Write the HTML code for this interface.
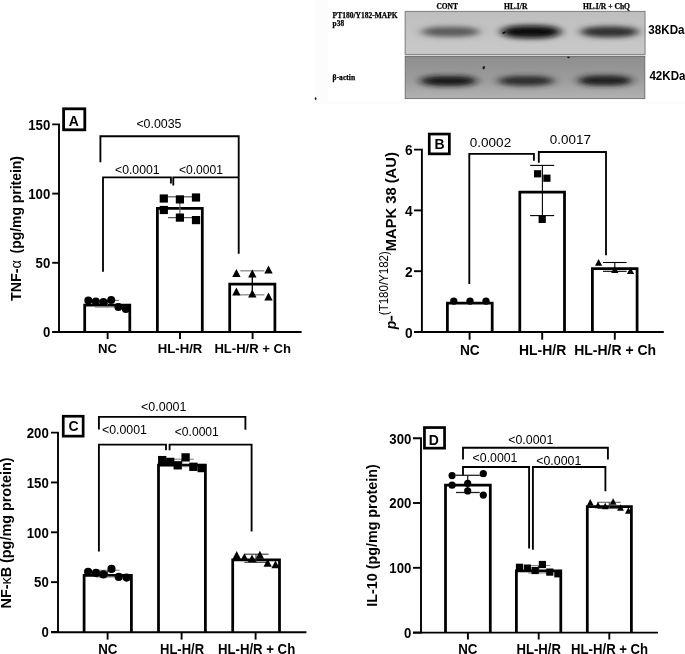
<!DOCTYPE html><html><head><meta charset="utf-8"><style>html,body{margin:0;padding:0;background:#fff;width:685px;height:654px;overflow:hidden}svg{display:block}</style></head><body>
<svg width="685" height="654" viewBox="0 0 685 654">
<defs><filter id="bl" x="-50%" y="-50%" width="200%" height="200%"><feGaussianBlur stdDeviation="5 2.4"/></filter><filter id="bl2" x="-50%" y="-50%" width="200%" height="200%"><feGaussianBlur stdDeviation="0.6"/></filter><filter id="soft" x="0" y="0" width="685" height="654" filterUnits="userSpaceOnUse"><feGaussianBlur stdDeviation="0.4"/></filter></defs>
<rect width="685" height="654" fill="#fff"/>
<g filter="url(#soft)">
<rect width="685" height="654" fill="#fff"/>
<rect x="315" y="0" width="370" height="104" fill="#fcfcfc"/>
<rect x="328" y="0" width="357" height="102" fill="#fff"/>
<defs><linearGradient id="g2" x1="0" y1="0" x2="0" y2="1"><stop offset="0" stop-color="#8e8e8e"/><stop offset="0.55" stop-color="#9c9c9c"/><stop offset="1" stop-color="#b2b2b2"/></linearGradient><linearGradient id="g1" x1="0" y1="0" x2="0" y2="1"><stop offset="0" stop-color="#bebebe"/><stop offset="1" stop-color="#c9c9c9"/></linearGradient></defs>
<rect x="404.6" y="10.8" width="241" height="47" fill="#d6d6d6"/>
<rect x="405.2" y="11.4" width="239.8" height="43" fill="url(#g1)" stroke="#7c7c7c" stroke-width="0.9"/>
<rect x="405.2" y="56.6" width="239.6" height="42" fill="url(#g2)" stroke="#6a6a6a" stroke-width="0.9"/>
<g filter="url(#bl)">
<rect x="421.5" y="26.8" width="58" height="10.0" rx="21.75" ry="5.0" fill="#5a5a5a"/>
<rect x="501" y="25.4" width="60" height="12.8" rx="22.5" ry="6.4" fill="#0a0a0a"/>
<rect x="580.5" y="26.4" width="58" height="10.8" rx="21.75" ry="5.4" fill="#2e2e2e"/>
<rect x="420.5" y="75.9" width="56" height="10.0" rx="21.0" ry="5.0" fill="#131313"/>
<rect x="498" y="76.10000000000001" width="56" height="9.6" rx="21.0" ry="4.8" fill="#2c2c2c"/>
<rect x="578" y="75.6" width="54" height="10.0" rx="20.25" ry="5.0" fill="#1c1c1c"/>
</g>
<text x="447.2" y="9.4" font-family='"Liberation Serif", serif' font-size="8" font-weight="bold" text-anchor="middle" textLength="21.6" lengthAdjust="spacingAndGlyphs" stroke="#000" stroke-width="0.25">CONT</text>
<text x="515.7" y="9.4" font-family='"Liberation Serif", serif' font-size="8" font-weight="bold" text-anchor="middle" textLength="23.4" lengthAdjust="spacingAndGlyphs" stroke="#000" stroke-width="0.25">HL.I/R</text>
<text x="606.5" y="9.4" font-family='"Liberation Serif", serif' font-size="8" font-weight="bold" text-anchor="middle" textLength="47" lengthAdjust="spacingAndGlyphs" stroke="#000" stroke-width="0.25">HL.I/R + ChQ</text>
<text x="332.6" y="17.9" font-family='"Liberation Serif", serif' font-size="7.6" font-weight="bold" text-anchor="start" textLength="65" lengthAdjust="spacingAndGlyphs" stroke="#000" stroke-width="0.25">PT180/Y182-MAPK</text>
<text x="332.6" y="26.4" font-family='"Liberation Serif", serif' font-size="7.6" font-weight="bold" text-anchor="start" textLength="11.5" lengthAdjust="spacingAndGlyphs" stroke="#000" stroke-width="0.25">p38</text>
<text x="332.6" y="80" font-family='"Liberation Serif", serif' font-size="7.6" font-weight="bold" text-anchor="start" textLength="22.5" lengthAdjust="spacingAndGlyphs" stroke="#000" stroke-width="0.25">β-actin</text>
<text x="648.33" y="33.9" font-family='"Liberation Sans", sans-serif' font-size="12.4" font-weight="bold" text-anchor="start" textLength="36.19" lengthAdjust="spacingAndGlyphs">38KDa</text>
<text x="649.42" y="79.8" font-family='"Liberation Sans", sans-serif' font-size="12.4" font-weight="bold" text-anchor="start" textLength="36.1" lengthAdjust="spacingAndGlyphs">42KDa</text>
<ellipse cx="315.6" cy="98.7" rx="0.9" ry="1.4" fill="#222"/>
<ellipse cx="483.8" cy="67.7" rx="1.2" ry="1.7" fill="#222" transform="rotate(20 483.8 67.7)"/>
<ellipse cx="504" cy="32.6" rx="1.8" ry="1.0" fill="#111" transform="rotate(-20 504 32.6)"/>
<ellipse cx="568.5" cy="57.4" rx="1.4" ry="0.8" fill="#222"/>
<path d="M52.2,124.4 H59 V332.95" fill="none" stroke="#000" stroke-width="1.9" stroke-linejoin="miter"/>
<line x1="52.2" y1="193.6" x2="59" y2="193.6" stroke="#000" stroke-width="1.9"/>
<line x1="52.2" y1="262.8" x2="59" y2="262.8" stroke="#000" stroke-width="1.9"/>
<line x1="52.2" y1="332.0" x2="59" y2="332.0" stroke="#000" stroke-width="1.9"/>
<text x="50.24" y="129.74" font-family='"Liberation Sans", sans-serif' font-size="14.124" font-weight="bold" text-anchor="end" textLength="22.02" lengthAdjust="spacingAndGlyphs">150</text>
<text x="50.24" y="198.94" font-family='"Liberation Sans", sans-serif' font-size="14.124" font-weight="bold" text-anchor="end" textLength="22.02" lengthAdjust="spacingAndGlyphs">100</text>
<text x="50.24" y="268.14" font-family='"Liberation Sans", sans-serif' font-size="14.124" font-weight="bold" text-anchor="end" textLength="14.68" lengthAdjust="spacingAndGlyphs">50</text>
<text x="50.24" y="337.34" font-family='"Liberation Sans", sans-serif' font-size="14.124" font-weight="bold" text-anchor="end" textLength="7.34" lengthAdjust="spacingAndGlyphs">0</text>
<line x1="52.4" y1="332" x2="301.6" y2="332" stroke="#000" stroke-width="1.9"/>
<line x1="107.6" y1="332" x2="107.6" y2="339" stroke="#000" stroke-width="1.9"/>
<line x1="180" y1="332" x2="180" y2="339" stroke="#000" stroke-width="1.9"/>
<line x1="252.6" y1="332" x2="252.6" y2="339" stroke="#000" stroke-width="1.9"/>
<path d="M84.7,332 V305.2 H129.8 V332" fill="none" stroke="#000" stroke-width="2.75" stroke-linejoin="miter"/>
<path d="M157.4,332 V208.4 H202.3 V332" fill="none" stroke="#000" stroke-width="2.75" stroke-linejoin="miter"/>
<path d="M229.7,332 V284.2 H274.9 V332" fill="none" stroke="#000" stroke-width="2.75" stroke-linejoin="miter"/>
<rect x="63.6" y="108.80000000000001" width="21.2" height="20.999999999999982" fill="none" stroke="#000" stroke-width="2.8"/>
<text x="73.9" y="125.6" font-family='"Liberation Sans", sans-serif' font-size="14" font-weight="bold" text-anchor="middle">A</text>
<path d="M100.4,162.3 V136.2 H238.7 V253.8" fill="none" stroke="#000" stroke-width="1.85" stroke-linejoin="miter" stroke-linecap="butt"/>
<path d="M103,271.8 V177.4 H170.9 V183.4" fill="none" stroke="#000" stroke-width="1.85" stroke-linejoin="miter" stroke-linecap="butt"/>
<path d="M173.3,185.6 V177.4 H238.7" fill="none" stroke="#000" stroke-width="1.85" stroke-linejoin="miter" stroke-linecap="butt"/>
<text x="136.39" y="128" font-family='"Liberation Sans", sans-serif' font-size="12.5" font-weight="normal" text-anchor="start" textLength="45.13" lengthAdjust="spacingAndGlyphs">&lt;0.0035</text>
<text x="115.0" y="174.2" font-family='"Liberation Sans", sans-serif' font-size="12.5" font-weight="normal" text-anchor="start" textLength="44.6" lengthAdjust="spacingAndGlyphs">&lt;0.0001</text>
<text x="179.0" y="174.2" font-family='"Liberation Sans", sans-serif' font-size="12.5" font-weight="normal" text-anchor="start" textLength="43.99" lengthAdjust="spacingAndGlyphs">&lt;0.0001</text>
<line x1="107.4" y1="300.4" x2="107.4" y2="307" stroke="#333" stroke-width="1.1"/>
<line x1="95" y1="300.4" x2="119" y2="300.4" stroke="#777" stroke-width="1.1"/>
<line x1="95" y1="307" x2="119" y2="307" stroke="#777" stroke-width="1.1"/>
<circle cx="88.3" cy="300.6" r="4.0" fill="#000"/>
<circle cx="95.8" cy="301.4" r="4.0" fill="#000"/>
<circle cx="103.4" cy="302" r="4.0" fill="#000"/>
<circle cx="111.2" cy="300" r="4.0" fill="#000"/>
<circle cx="118.4" cy="307" r="4.0" fill="#000"/>
<circle cx="125.8" cy="309" r="4.0" fill="#000"/>
<line x1="179.9" y1="196.8" x2="179.9" y2="217.6" stroke="#666" stroke-width="1.2"/>
<line x1="168" y1="196.8" x2="192" y2="196.8" stroke="#555" stroke-width="1.2"/>
<line x1="168" y1="217.6" x2="192" y2="217.6" stroke="#555" stroke-width="1.2"/>
<rect x="159.70000000000002" y="194.4" width="8.2" height="8.2" fill="#000"/>
<rect x="175.8" y="195.3" width="8.2" height="8.2" fill="#000"/>
<rect x="191.9" y="193.4" width="8.2" height="8.2" fill="#000"/>
<rect x="159.70000000000002" y="205.9" width="8.2" height="8.2" fill="#000"/>
<rect x="175.8" y="213.5" width="8.2" height="8.2" fill="#000"/>
<rect x="191.9" y="216.0" width="8.2" height="8.2" fill="#000"/>
<line x1="252.3" y1="270.8" x2="252.3" y2="294.8" stroke="#000" stroke-width="1.3"/>
<line x1="240.3" y1="270.8" x2="264.4" y2="270.8" stroke="#888" stroke-width="1.3"/>
<line x1="240.3" y1="294.8" x2="264.4" y2="294.8" stroke="#888" stroke-width="1.3"/>
<path d="M236.4,269.11 L240.6,277.09000000000003 L232.20000000000002,277.09000000000003 Z" fill="#000"/>
<path d="M252.3,269.61 L256.5,277.59000000000003 L248.10000000000002,277.59000000000003 Z" fill="#000"/>
<path d="M268.5,265.51 L272.7,273.49 L264.3,273.49 Z" fill="#000"/>
<path d="M236.4,287.40999999999997 L240.6,295.39 L232.20000000000002,295.39 Z" fill="#000"/>
<path d="M252.3,289.51 L256.5,297.49 L248.10000000000002,297.49 Z" fill="#000"/>
<path d="M268.5,292.61 L272.7,300.59000000000003 L264.3,300.59000000000003 Z" fill="#000"/>
<text x="97.92" y="352.9" font-family='"Liberation Sans", sans-serif' font-size="12.9" font-weight="bold" text-anchor="start" textLength="19.04" lengthAdjust="spacingAndGlyphs">NC</text>
<text x="157.82" y="352.9" font-family='"Liberation Sans", sans-serif' font-size="12.9" font-weight="bold" text-anchor="start" textLength="44.55" lengthAdjust="spacingAndGlyphs">HL-H/R</text>
<text x="214.43" y="352.9" font-family='"Liberation Sans", sans-serif' font-size="12.9" font-weight="bold" text-anchor="start" textLength="76.58" lengthAdjust="spacingAndGlyphs">HL-H/R + Ch</text>
<text transform="translate(21,301.0) rotate(-90)" font-family='"Liberation Sans", sans-serif' font-size="14.3" font-weight="bold">TNF-</text>
<text transform="translate(21,268.4) rotate(-90)" font-family='"Liberation Sans", sans-serif' font-size="14.5">α</text>
<text transform="translate(21,156.1) rotate(-90)" font-family='"Liberation Sans", sans-serif' font-size="14" font-weight="bold" text-anchor="end" textLength="97.3" lengthAdjust="spacingAndGlyphs">(pg/mg pritein)</text>
<path d="M414,149.60000000000002 H421.9 V332.95" fill="none" stroke="#000" stroke-width="1.9" stroke-linejoin="miter"/>
<line x1="414" y1="210.4" x2="421.9" y2="210.4" stroke="#000" stroke-width="1.9"/>
<line x1="414" y1="271.2" x2="421.9" y2="271.2" stroke="#000" stroke-width="1.9"/>
<line x1="414" y1="332.0" x2="421.9" y2="332.0" stroke="#000" stroke-width="1.9"/>
<text x="412.67" y="155.17" font-family='"Liberation Sans", sans-serif' font-size="14.766000000000002" font-weight="bold" text-anchor="end" textLength="7.67" lengthAdjust="spacingAndGlyphs">6</text>
<text x="412.67" y="215.97" font-family='"Liberation Sans", sans-serif' font-size="14.766000000000002" font-weight="bold" text-anchor="end" textLength="7.67" lengthAdjust="spacingAndGlyphs">4</text>
<text x="412.67" y="276.77" font-family='"Liberation Sans", sans-serif' font-size="14.766000000000002" font-weight="bold" text-anchor="end" textLength="7.67" lengthAdjust="spacingAndGlyphs">2</text>
<text x="412.67" y="337.57" font-family='"Liberation Sans", sans-serif' font-size="14.766000000000002" font-weight="bold" text-anchor="end" textLength="7.67" lengthAdjust="spacingAndGlyphs">0</text>
<line x1="414" y1="332" x2="663.8" y2="332" stroke="#000" stroke-width="1.9"/>
<line x1="469.6" y1="332" x2="469.6" y2="339.7" stroke="#000" stroke-width="1.9"/>
<line x1="542.2" y1="332" x2="542.2" y2="339.7" stroke="#000" stroke-width="1.9"/>
<line x1="614.8" y1="332" x2="614.8" y2="339.7" stroke="#000" stroke-width="1.9"/>
<path d="M447.4,332 V303.1 H492.2 V332" fill="none" stroke="#000" stroke-width="2.75" stroke-linejoin="miter"/>
<path d="M519.8,332 V192.2 H564.5 V332" fill="none" stroke="#000" stroke-width="2.75" stroke-linejoin="miter"/>
<path d="M592.4,332 V268.5 H637.1 V332" fill="none" stroke="#000" stroke-width="2.75" stroke-linejoin="miter"/>
<rect x="429.25" y="134.04999999999998" width="20.100000000000012" height="19.8" fill="none" stroke="#000" stroke-width="2.7"/>
<text x="439.6" y="148.6" font-family='"Liberation Sans", sans-serif' font-size="14" font-weight="bold" text-anchor="middle">B</text>
<path d="M469.3,284 V153.8 H533.9 V160.8" fill="none" stroke="#000" stroke-width="1.85" stroke-linejoin="miter" stroke-linecap="butt"/>
<path d="M538.8,162.8 V152 H606 V255.2" fill="none" stroke="#000" stroke-width="1.85" stroke-linejoin="miter" stroke-linecap="butt"/>
<text x="469.77" y="146.7" font-family='"Liberation Sans", sans-serif' font-size="12.5" font-weight="normal" text-anchor="start" textLength="41.41" lengthAdjust="spacingAndGlyphs">0.0002</text>
<text x="549.88" y="144.2" font-family='"Liberation Sans", sans-serif' font-size="12.5" font-weight="normal" text-anchor="start" textLength="41.0" lengthAdjust="spacingAndGlyphs">0.0017</text>
<circle cx="453.8" cy="301.1" r="3.7" fill="#000"/>
<circle cx="470" cy="301.1" r="3.7" fill="#000"/>
<circle cx="486" cy="301.1" r="3.7" fill="#000"/>
<line x1="542.4" y1="165.4" x2="542.4" y2="215.6" stroke="#000" stroke-width="1.1"/>
<line x1="530.1" y1="165.4" x2="554.2" y2="165.4" stroke="#000" stroke-width="1.1"/>
<line x1="530.1" y1="215.6" x2="554.2" y2="215.6" stroke="#000" stroke-width="1.1"/>
<rect x="534.0" y="170.20000000000002" width="7.2" height="7.2" fill="#000"/>
<rect x="543.3" y="174.6" width="7.2" height="7.2" fill="#000"/>
<rect x="538.6" y="215.8" width="7.2" height="7.2" fill="#000"/>
<line x1="614.8" y1="262.5" x2="614.8" y2="271.3" stroke="#000" stroke-width="1.1"/>
<line x1="603" y1="262.5" x2="626.6" y2="262.5" stroke="#000" stroke-width="1.1"/>
<line x1="603" y1="271.3" x2="626.6" y2="271.3" stroke="#000" stroke-width="1.1"/>
<path d="M598.6,258.88 L602.2,265.72 L595.0,265.72 Z" fill="#000"/>
<path d="M614.8,266.28 L618.4,273.12 L611.1999999999999,273.12 Z" fill="#000"/>
<path d="M630.5,267.18 L634.1,274.02000000000004 L626.9,274.02000000000004 Z" fill="#000"/>
<text x="459.98" y="354.8" font-family='"Liberation Sans", sans-serif' font-size="13.8" font-weight="bold" text-anchor="start" textLength="19.79" lengthAdjust="spacingAndGlyphs">NC</text>
<text x="519.07" y="354.8" font-family='"Liberation Sans", sans-serif' font-size="13.8" font-weight="bold" text-anchor="start" textLength="47.12" lengthAdjust="spacingAndGlyphs">HL-H/R</text>
<text x="574.27" y="354.8" font-family='"Liberation Sans", sans-serif' font-size="13.8" font-weight="bold" text-anchor="start" textLength="81.8" lengthAdjust="spacingAndGlyphs">HL-H/R + Ch</text>
<g transform="translate(0,0)">
<text transform="translate(396,329.3) rotate(-90)" font-family='"Liberation Sans", sans-serif' font-size="14" font-style="italic" font-weight="bold">p</text>
<line x1="391.6" y1="315.8" x2="391.6" y2="320.8" stroke="#000" stroke-width="1.8"/>
<text transform="translate(388.2,315.2) rotate(-90)" font-family='"Liberation Sans", sans-serif' font-size="12" textLength="64" lengthAdjust="spacingAndGlyphs">(T180/Y182)</text>
<text transform="translate(395.5,251.2) rotate(-90)" font-family='"Liberation Sans", sans-serif' font-size="14.5" font-weight="bold" textLength="99" lengthAdjust="spacingAndGlyphs">MAPK 38 (AU)</text>
</g>
<path d="M51,432.6 H58 V632.95" fill="none" stroke="#000" stroke-width="1.9" stroke-linejoin="miter"/>
<line x1="51" y1="482.45" x2="58" y2="482.45" stroke="#000" stroke-width="1.9"/>
<line x1="51" y1="532.3" x2="58" y2="532.3" stroke="#000" stroke-width="1.9"/>
<line x1="51" y1="582.15" x2="58" y2="582.15" stroke="#000" stroke-width="1.9"/>
<line x1="51" y1="632.0" x2="58" y2="632.0" stroke="#000" stroke-width="1.9"/>
<text x="48.74" y="437.94" font-family='"Liberation Sans", sans-serif' font-size="14.124" font-weight="bold" text-anchor="end" textLength="22.02" lengthAdjust="spacingAndGlyphs">200</text>
<text x="48.74" y="487.79" font-family='"Liberation Sans", sans-serif' font-size="14.124" font-weight="bold" text-anchor="end" textLength="22.02" lengthAdjust="spacingAndGlyphs">150</text>
<text x="48.74" y="537.64" font-family='"Liberation Sans", sans-serif' font-size="14.124" font-weight="bold" text-anchor="end" textLength="22.02" lengthAdjust="spacingAndGlyphs">100</text>
<text x="48.74" y="587.49" font-family='"Liberation Sans", sans-serif' font-size="14.124" font-weight="bold" text-anchor="end" textLength="14.68" lengthAdjust="spacingAndGlyphs">50</text>
<text x="48.74" y="637.34" font-family='"Liberation Sans", sans-serif' font-size="14.124" font-weight="bold" text-anchor="end" textLength="7.34" lengthAdjust="spacingAndGlyphs">0</text>
<line x1="51" y1="632.2" x2="306.4" y2="632.2" stroke="#000" stroke-width="1.9"/>
<line x1="107.6" y1="632.2" x2="107.6" y2="639.6" stroke="#000" stroke-width="1.9"/>
<line x1="181.6" y1="632.2" x2="181.6" y2="639.6" stroke="#000" stroke-width="1.9"/>
<line x1="255.6" y1="632.2" x2="255.6" y2="639.6" stroke="#000" stroke-width="1.9"/>
<path d="M84.1,632 V575.3 H131.4 V632" fill="none" stroke="#000" stroke-width="2.75" stroke-linejoin="miter"/>
<path d="M158.5,632 V465.1 H205.4 V632" fill="none" stroke="#000" stroke-width="2.75" stroke-linejoin="miter"/>
<path d="M232.7,632 V559.9 H279.5 V632" fill="none" stroke="#000" stroke-width="2.75" stroke-linejoin="miter"/>
<rect x="63.25" y="416.25" width="19.900000000000002" height="19.900000000000023" fill="none" stroke="#000" stroke-width="2.7"/>
<text x="73.6" y="430.5" font-family='"Liberation Sans", sans-serif' font-size="14" font-weight="bold" text-anchor="middle">C</text>
<path d="M98.9,429.6 V416.8 H245.4 V429.8" fill="none" stroke="#000" stroke-width="1.85" stroke-linejoin="miter" stroke-linecap="butt"/>
<path d="M98.9,551.4 V444.6 H166 V450.2" fill="none" stroke="#000" stroke-width="1.85" stroke-linejoin="miter" stroke-linecap="butt"/>
<path d="M169.6,450.2 V444.6 H251.6 V531.6" fill="none" stroke="#000" stroke-width="1.85" stroke-linejoin="miter" stroke-linecap="butt"/>
<text x="141.09" y="410.9" font-family='"Liberation Sans", sans-serif' font-size="12.5" font-weight="normal" text-anchor="start" textLength="45.32" lengthAdjust="spacingAndGlyphs">&lt;0.0001</text>
<text x="101.99" y="434.2" font-family='"Liberation Sans", sans-serif' font-size="12.5" font-weight="normal" text-anchor="start" textLength="45.01" lengthAdjust="spacingAndGlyphs">&lt;0.0001</text>
<text x="174.7" y="435.6" font-family='"Liberation Sans", sans-serif' font-size="12.5" font-weight="normal" text-anchor="start" textLength="44.19" lengthAdjust="spacingAndGlyphs">&lt;0.0001</text>
<line x1="107.6" y1="570.3" x2="107.6" y2="577" stroke="#333" stroke-width="1.1"/>
<line x1="96" y1="570.3" x2="119.6" y2="570.3" stroke="#888" stroke-width="1.1"/>
<line x1="96" y1="577" x2="119.6" y2="577" stroke="#888" stroke-width="1.1"/>
<circle cx="88.1" cy="571.8" r="4.1" fill="#000"/>
<circle cx="96" cy="572.9" r="4.1" fill="#000"/>
<circle cx="103.4" cy="574.4" r="4.1" fill="#000"/>
<circle cx="111.5" cy="568.9" r="4.1" fill="#000"/>
<circle cx="118.7" cy="576.9" r="4.1" fill="#000"/>
<circle cx="126.6" cy="577.6" r="4.1" fill="#000"/>
<line x1="181.8" y1="459.2" x2="181.8" y2="466.6" stroke="#444" stroke-width="1.1"/>
<line x1="170" y1="459.2" x2="193.9" y2="459.2" stroke="#888" stroke-width="1.1"/>
<line x1="170" y1="466.6" x2="193.9" y2="466.6" stroke="#888" stroke-width="1.1"/>
<rect x="158.04999999999998" y="455.95000000000005" width="8.3" height="8.3" fill="#000"/>
<rect x="166.04999999999998" y="457.75" width="8.3" height="8.3" fill="#000"/>
<rect x="173.54999999999998" y="461.15000000000003" width="8.3" height="8.3" fill="#000"/>
<rect x="181.45" y="453.25" width="8.3" height="8.3" fill="#000"/>
<rect x="189.25" y="462.65000000000003" width="8.3" height="8.3" fill="#000"/>
<rect x="197.54999999999998" y="463.95000000000005" width="8.3" height="8.3" fill="#000"/>
<line x1="256" y1="554.2" x2="256" y2="562.3" stroke="#333" stroke-width="1.1"/>
<line x1="244.4" y1="554.2" x2="268.5" y2="554.2" stroke="#333" stroke-width="1.1"/>
<line x1="244.4" y1="562.3" x2="268.5" y2="562.3" stroke="#333" stroke-width="1.1"/>
<path d="M236.7,551.0575 L240.85,558.9425 L232.54999999999998,558.9425 Z" fill="#000"/>
<path d="M244.4,553.1575 L248.55,561.0425 L240.25,561.0425 Z" fill="#000"/>
<path d="M252,554.4575 L256.15,562.3425 L247.85,562.3425 Z" fill="#000"/>
<path d="M259.9,550.8575 L264.04999999999995,558.7425 L255.74999999999997,558.7425 Z" fill="#000"/>
<path d="M267.7,558.8575 L271.84999999999997,566.7425 L263.55,566.7425 Z" fill="#000"/>
<path d="M275.5,560.4575 L279.65,568.3425 L271.35,568.3425 Z" fill="#000"/>
<text x="98.21" y="653.9" font-family='"Liberation Sans", sans-serif' font-size="13.8" font-weight="bold" text-anchor="start" textLength="19.26" lengthAdjust="spacingAndGlyphs">NC</text>
<text x="160.03" y="653.9" font-family='"Liberation Sans", sans-serif' font-size="13.8" font-weight="bold" text-anchor="start" textLength="44.04" lengthAdjust="spacingAndGlyphs">HL-H/R</text>
<text x="217.92" y="653.9" font-family='"Liberation Sans", sans-serif' font-size="13.8" font-weight="bold" text-anchor="start" textLength="77.3" lengthAdjust="spacingAndGlyphs">HL-H/R + Ch</text>
<text transform="translate(10.9,608.5) rotate(-90)" x="0" y="0" font-family='"Liberation Sans", sans-serif' font-size="14" font-weight="bold" textLength="151" lengthAdjust="spacingAndGlyphs">NF-<tspan font-weight="normal">κ</tspan>B (pg/mg protein)</text>
<path d="M413,438.20000000000005 H421 V633.5500000000001" fill="none" stroke="#000" stroke-width="1.9" stroke-linejoin="miter"/>
<line x1="413" y1="503.0" x2="421" y2="503.0" stroke="#000" stroke-width="1.9"/>
<line x1="413" y1="567.8000000000001" x2="421" y2="567.8000000000001" stroke="#000" stroke-width="1.9"/>
<line x1="413" y1="632.6" x2="421" y2="632.6" stroke="#000" stroke-width="1.9"/>
<text x="411.34" y="443.54" font-family='"Liberation Sans", sans-serif' font-size="14.124" font-weight="bold" text-anchor="end" textLength="22.02" lengthAdjust="spacingAndGlyphs">300</text>
<text x="411.34" y="508.34" font-family='"Liberation Sans", sans-serif' font-size="14.124" font-weight="bold" text-anchor="end" textLength="22.02" lengthAdjust="spacingAndGlyphs">200</text>
<text x="411.34" y="573.14" font-family='"Liberation Sans", sans-serif' font-size="14.124" font-weight="bold" text-anchor="end" textLength="22.02" lengthAdjust="spacingAndGlyphs">100</text>
<text x="411.34" y="637.94" font-family='"Liberation Sans", sans-serif' font-size="14.124" font-weight="bold" text-anchor="end" textLength="7.34" lengthAdjust="spacingAndGlyphs">0</text>
<line x1="413" y1="632.6" x2="658" y2="632.6" stroke="#000" stroke-width="1.9"/>
<line x1="467.9" y1="632.6" x2="467.9" y2="639.5" stroke="#000" stroke-width="1.9"/>
<line x1="538.7" y1="632.6" x2="538.7" y2="639.5" stroke="#000" stroke-width="1.9"/>
<line x1="609.3" y1="632.6" x2="609.3" y2="639.5" stroke="#000" stroke-width="1.9"/>
<path d="M445.5,632.6 V485.2 H490.3 V632.6" fill="none" stroke="#000" stroke-width="2.75" stroke-linejoin="miter"/>
<path d="M516.4,632.6 V570.8 H560.8 V632.6" fill="none" stroke="#000" stroke-width="2.75" stroke-linejoin="miter"/>
<path d="M587.3,632.6 V506.6 H631.4 V632.6" fill="none" stroke="#000" stroke-width="2.75" stroke-linejoin="miter"/>
<rect x="424.45000000000005" y="427.55" width="20.099999999999955" height="20.600000000000012" fill="none" stroke="#000" stroke-width="2.7"/>
<text x="433.9" y="444.6" font-family='"Liberation Sans", sans-serif' font-size="14" font-weight="bold" text-anchor="middle">D</text>
<path d="M463,459.6 V447.7 H607.9 V459.5" fill="none" stroke="#000" stroke-width="1.85" stroke-linejoin="miter" stroke-linecap="butt"/>
<path d="M463,475.6 V467 H529.1 V548.6" fill="none" stroke="#000" stroke-width="1.85" stroke-linejoin="miter" stroke-linecap="butt"/>
<path d="M532.9,549.7 V467 H605.4 V491.3" fill="none" stroke="#000" stroke-width="1.85" stroke-linejoin="miter" stroke-linecap="butt"/>
<text x="508.29" y="444.4" font-family='"Liberation Sans", sans-serif' font-size="12.5" font-weight="normal" text-anchor="start" textLength="45.01" lengthAdjust="spacingAndGlyphs">&lt;0.0001</text>
<text x="472.59" y="462.4" font-family='"Liberation Sans", sans-serif' font-size="12.5" font-weight="normal" text-anchor="start" textLength="44.91" lengthAdjust="spacingAndGlyphs">&lt;0.0001</text>
<text x="536.29" y="465" font-family='"Liberation Sans", sans-serif' font-size="12.5" font-weight="normal" text-anchor="start" textLength="45.01" lengthAdjust="spacingAndGlyphs">&lt;0.0001</text>
<line x1="467.7" y1="475.3" x2="467.7" y2="492.5" stroke="#222" stroke-width="1.3"/>
<line x1="456" y1="475.3" x2="479.8" y2="475.3" stroke="#222" stroke-width="1.3"/>
<line x1="456" y1="492.5" x2="479.8" y2="492.5" stroke="#222" stroke-width="1.3"/>
<circle cx="452.1" cy="475.6" r="3.6" fill="#000"/>
<circle cx="483.3" cy="473.7" r="3.6" fill="#000"/>
<circle cx="467.7" cy="483.3" r="3.6" fill="#000"/>
<circle cx="452.1" cy="485.2" r="3.6" fill="#000"/>
<circle cx="467.7" cy="490.9" r="3.6" fill="#000"/>
<circle cx="483.3" cy="495.1" r="3.6" fill="#000"/>
<line x1="538.7" y1="565.5" x2="538.7" y2="573" stroke="#333" stroke-width="1.1"/>
<line x1="528" y1="565.5" x2="550.3" y2="565.5" stroke="#888" stroke-width="1.1"/>
<line x1="528" y1="573" x2="550.3" y2="573" stroke="#888" stroke-width="1.1"/>
<rect x="515.9" y="563.6999999999999" width="7.2" height="7.2" fill="#000"/>
<rect x="523.8" y="564.5" width="7.2" height="7.2" fill="#000"/>
<rect x="531.5" y="566.9" width="7.2" height="7.2" fill="#000"/>
<rect x="538.8" y="560.9" width="7.2" height="7.2" fill="#000"/>
<rect x="546.1999999999999" y="568.5" width="7.2" height="7.2" fill="#000"/>
<rect x="554.3" y="570.1999999999999" width="7.2" height="7.2" fill="#000"/>
<line x1="609.3" y1="502.3" x2="609.3" y2="508.4" stroke="#333" stroke-width="1.1"/>
<line x1="597.5" y1="502.3" x2="620.7" y2="502.3" stroke="#666" stroke-width="1.1"/>
<line x1="597.5" y1="508.4" x2="620.7" y2="508.4" stroke="#666" stroke-width="1.1"/>
<path d="M590.3,499.07 L593.6999999999999,505.53000000000003 L586.9,505.53000000000003 Z" fill="#000"/>
<path d="M598,501.66999999999996 L601.4,508.13 L594.6,508.13 Z" fill="#000"/>
<path d="M605.2,502.77 L608.6,509.23 L601.8000000000001,509.23 Z" fill="#000"/>
<path d="M613.1,498.16999999999996 L616.5,504.63 L609.7,504.63 Z" fill="#000"/>
<path d="M620.5,504.27 L623.9,510.73 L617.1,510.73 Z" fill="#000"/>
<path d="M628.4,507.37 L631.8,513.83 L625.0,513.83 Z" fill="#000"/>
<text x="458.21" y="653.9" font-family='"Liberation Sans", sans-serif' font-size="13.8" font-weight="bold" text-anchor="start" textLength="19.26" lengthAdjust="spacingAndGlyphs">NC</text>
<text x="516.52" y="653.9" font-family='"Liberation Sans", sans-serif' font-size="13.8" font-weight="bold" text-anchor="start" textLength="44.45" lengthAdjust="spacingAndGlyphs">HL-H/R</text>
<text x="571.12" y="653.9" font-family='"Liberation Sans", sans-serif' font-size="13.8" font-weight="bold" text-anchor="start" textLength="76.99" lengthAdjust="spacingAndGlyphs">HL-H/R + Ch</text>
<text transform="translate(376.8,606.8) rotate(-90)" x="0" y="0" font-family='"Liberation Sans", sans-serif' font-size="14" font-weight="bold" textLength="142.5" lengthAdjust="spacingAndGlyphs">IL-10 (pg/mg protein)</text>
</g>
</svg></body></html>
